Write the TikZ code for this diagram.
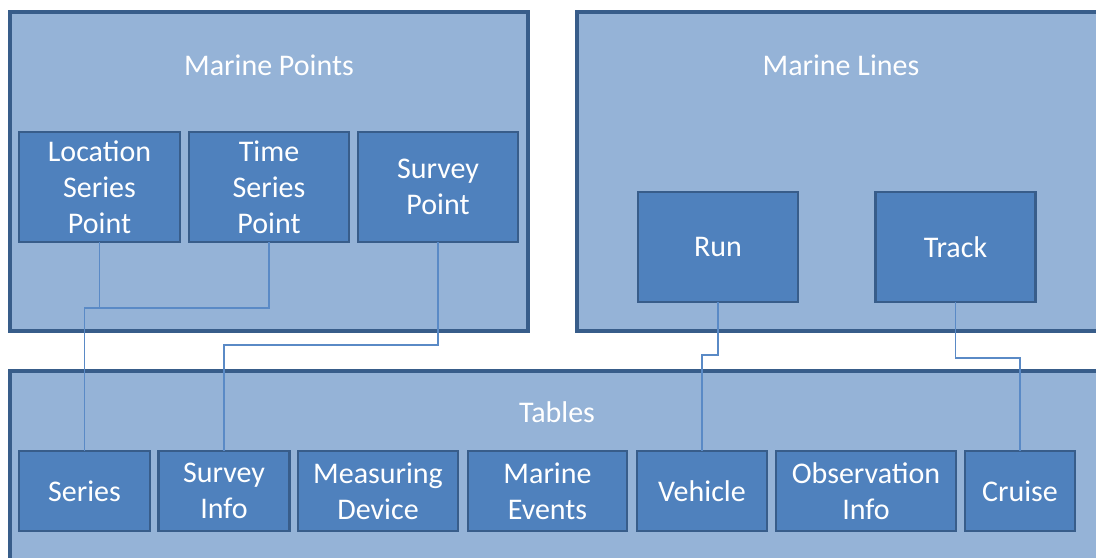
\documentclass[tikz,border=0pt]{standalone}
\usepackage{fontspec}
\setmainfont{Carlito}
\definecolor{groupfill}{HTML}{95B3D7}
\definecolor{edge}{HTML}{385D8A}
\definecolor{boxfill}{HTML}{4F81BD}
\definecolor{wire}{HTML}{5A8AC6}
\tikzset{
  group/.style={draw=edge, line width=2.4pt, fill=groupfill},
  item/.style 2 args={draw=edge, line width=2.2pt, fill=boxfill, text=white,
    inner sep=0pt, outer sep=0pt, align=center,
    minimum width=#1*0.75pt, minimum height=#2*0.75pt,
    font=\fontsize{22.5}{27}\selectfont},
  grouptitle/.style={text=white, inner sep=0pt, font=\fontsize{22.5}{27}\selectfont},
  wirestyle/.style={draw=wire, line width=1.1pt},
}
\begin{document}
\begin{tikzpicture}[x=0.75pt, y=-0.75pt]
\useasboundingbox (0,0) rectangle (1096,557);
\clip (0,0) rectangle (1096,557);

% container panels
\draw[group] (10,12) rectangle (528,331);
\draw[group] (577,12) rectangle (1110,331);
\draw[group] (10,371) rectangle (1110,570);

\node[grouptitle] (tpoints) at (269,65) {Marine Points};
\node[grouptitle] (tlines) at (841,65) {Marine Lines};
\node[grouptitle] (ttables) at (557,412) {Tables};

% point feature classes
\node[item={161}{110}] (lsp) at (99.5,187) {Location\\Series\\Point};
\node[item={160}{110}] (tsp) at (269,187) {Time\\Series\\Point};
\node[item={160}{110}] (sp) at (438,187) {Survey\\Point};

% line feature classes
\node[item={160}{110}] (run) at (718,247) {Run};
\node[item={160}{110}] (track) at (955.5,247) {Track};

% tables
\node[item={131}{80}] (series) at (84.5,491) {Series};
\node[item={131}{80}] (sinfo) at (224,491) {Survey\\Info};
\node[item={160}{80}] (mdev) at (378,491) {Measuring\\Device};
\node[item={159}{80}] (mev) at (547.5,491) {Marine\\Events};
\node[item={130}{80}] (vehicle) at (702,491) {Vehicle};
\node[item={180}{80}] (oinfo) at (866,491) {Observation\\Info};
\node[item={110}{80}] (cruise) at (1020,491) {Cruise};

% relationships
\coordinate (j1) at (series.north |- 0,308);
\coordinate (j2) at (sinfo.north |- 0,345);
\coordinate (j3) at (run.south |- 0,355);
\coordinate (j4) at (track.south |- 0,358);
\draw[wirestyle] (lsp.south) |- (j1) -- (series.north);
\draw[wirestyle] (tsp.south) |- (j1);
\draw[wirestyle] (sp.south) |- (j2) -- (sinfo.north);
\draw[wirestyle] (run.south) -- (j3) -| (vehicle.north);
\draw[wirestyle] (track.south) -- (j4) -| (cruise.north);
\end{tikzpicture}
\end{document}
